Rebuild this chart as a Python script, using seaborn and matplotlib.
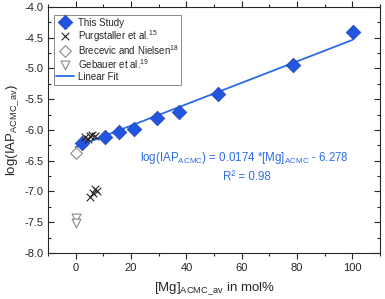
import matplotlib
matplotlib.use('Agg')
import matplotlib.pyplot as plt
from matplotlib.ticker import MultipleLocator
import seaborn as sns
import numpy as np
import pandas as pd

# This study
study_mg = [2.3, 10.5, 15.8, 20.9, 29.4, 37.3, 51.4, 78.7, 100.2]
study_iap = [-6.21, -6.12, -6.04, -5.99, -5.81, -5.71, -5.42, -4.95, -4.41]

# Purgstaller et al.
purg_mg = [3.5, 4.5, 5.2, 6.0, 7.0, 5.3, 6.3, 7.0, 7.6]
purg_iap = [-6.12, -6.14, -6.10, -6.08, -6.10, -7.09, -7.02, -6.96, -6.99]

# Brecevic and Nielsen
brec_mg = [0.0]
brec_iap = [-6.38]

# Gebauer et al.
geb_mg = [0.0, 0.0]
geb_iap = [-7.43, -7.51]

# linear fit
slope, intercept = 0.0174, -6.278
fit_mg = np.array([0.0, 100.0])
fit_iap = slope * fit_mg + intercept

sns.set_style('ticks')
plt.rcParams['font.family'] = ['Liberation Sans', 'DejaVu Sans']
plt.rcParams['mathtext.fontset'] = 'custom'
plt.rcParams['mathtext.rm'] = 'Liberation Sans'
plt.rcParams['font.size'] = 8

blue = '#2356e0'
fit_blue = '#2b6ce8'

fig = plt.figure(figsize=(3.85, 2.99), dpi=100)
ax = fig.add_axes([0.125, 0.154, 0.862, 0.823])

sns.lineplot(x=fit_mg, y=fit_iap, ax=ax, color=fit_blue, lw=1.3, label='Linear Fit', zorder=2)
sns.scatterplot(x=study_mg, y=study_iap, ax=ax, marker='D', s=55, color=blue,
                edgecolor='#1a3fb0', linewidth=0.5, label='This Study', zorder=3)
sns.scatterplot(x=purg_mg, y=purg_iap, ax=ax, marker='x', s=30, color='#222222',
                linewidth=0.8, label=r'Purgstaller et al.$^{\mathregular{15}}$', zorder=3)
sns.scatterplot(x=brec_mg, y=brec_iap, ax=ax, marker='D', s=35, facecolor='white',
                edgecolor='#888888', linewidth=0.8, label=r'Brecevic and Nielsen$^{\mathregular{18}}$', zorder=3)
sns.scatterplot(x=geb_mg, y=geb_iap, ax=ax, marker='v', s=40, facecolor='white',
                edgecolor='#888888', linewidth=0.8, label=r'Gebauer et al.$^{\mathregular{19}}$', zorder=3)

ax.set_xlim(-10, 110)
ax.set_ylim(-8.0, -4.0)
ax.xaxis.set_major_locator(MultipleLocator(20))
ax.xaxis.set_minor_locator(MultipleLocator(10))
ax.yaxis.set_major_locator(MultipleLocator(0.5))
ax.yaxis.set_minor_locator(MultipleLocator(0.25))
ax.yaxis.set_major_formatter(matplotlib.ticker.FormatStrFormatter('%.1f'))
ax.tick_params(axis='x', which='both', direction='out', top=True, labelsize=8)
ax.tick_params(axis='y', which='both', direction='in', right=True, labelsize=8)
ax.tick_params(which='major', length=4, width=0.8)
ax.tick_params(which='minor', length=2, width=0.8)
for sp in ax.spines.values():
    sp.set_linewidth(0.8)

ax.set_xlabel(r'[Mg]$_{\mathregular{ACMC\_av}}$ in mol%', fontsize=9.5, labelpad=5)
ax.set_ylabel(r'log(IAP$_{\mathregular{ACMC\_av}}$)', fontsize=9.5, labelpad=2)

ax.text(61, -6.45, r'log(IAP$_{\mathregular{ACMC}}$) = 0.0174 *[Mg]$_{\mathregular{ACMC}}$ - 6.278',
        color=fit_blue, fontsize=8.3, ha='center', va='center')
ax.text(62, -6.77, 'R² = 0.98', color=fit_blue, fontsize=8.3, ha='center', va='center')

handles, labels = ax.get_legend_handles_labels()
order = ['This Study', r'Purgstaller et al.$^{\mathregular{15}}$',
         r'Brecevic and Nielsen$^{\mathregular{18}}$',
         r'Gebauer et al.$^{\mathregular{19}}$', 'Linear Fit']
hmap = dict(zip(labels, handles))
leg = ax.legend([hmap[k] for k in order], order, loc='upper left', bbox_to_anchor=(0.018, 0.967),
                fontsize=7, frameon=True, fancybox=False, edgecolor='#555555',
                borderpad=0.2, labelspacing=0.0, handlelength=1.8, handleheight=1.35,
                handletextpad=0.5, borderaxespad=0)
leg.get_frame().set_linewidth(0.6)

fig.savefig('out.png', dpi=100)
